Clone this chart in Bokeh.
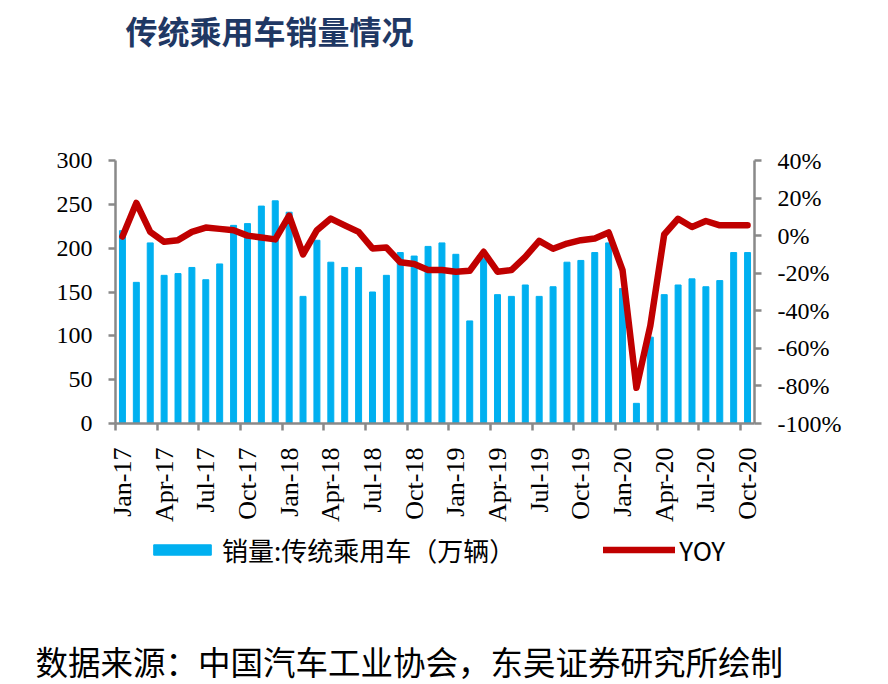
import math
from bokeh.plotting import figure
from bokeh.layouts import column
from bokeh.models import (Range1d, LinearAxis, FixedTicker, PrintfTickFormatter,
                          Label, Legend, LegendItem, Title)
from bokeh.embed import file_html
from bokeh.resources import INLINE

# ---------------- data ----------------
month_names = ["Jan", "Feb", "Mar", "Apr", "May", "Jun",
               "Jul", "Aug", "Sep", "Oct", "Nov", "Dec"]
months = [f"{m}-{y}" for y in ("17", "18", "19", "20") for m in month_names][:46]

sales = [220, 161, 206, 169, 171, 178, 164, 182, 226, 228, 248, 254,
         241, 145, 209, 184, 178, 178, 150, 169, 195, 191, 202, 206,
         193, 117, 188, 147, 145, 158, 145, 156, 184, 186, 195, 206,
         154, 23, 98.5, 147, 158, 165, 156, 163, 195, 195]

yoy = [-0.5, 17.4, 2.0, -3.3, -2.4, 2.0, 4.3, 3.6, 2.9, 0.0, -1.0, -2.0,
       10.7, -10.0, 2.9, 9.1, 5.5, 2.0, -6.8, -6.3, -14.2, -15.1, -18.3, -18.3,
       -19.2, -18.7, -8.6, -19.2, -18.3, -11.3, -2.8, -7.0, -4.2, -2.4, -1.5, 1.7,
       -18.3, -81.0, -48.0, 0.6, 9.0, 4.6, 7.8, 5.5, 5.5, 5.5]

left_ticks = [0, 50, 100, 150, 200, 250, 300]
right_ticks = [-100, -80, -60, -40, -20, 0, 20, 40]

title_text = "传统乘用车销量情况"
source_text = "数据来源：中国汽车工业协会，东吴证券研究所绘制"
bar_label = "销量:传统乘用车（万辆）"
line_label = "YOY"

# ---------------- styles ----------------
BAR_COLOR = "#00B0F0"
LINE_COLOR = "#C00000"
AXIS_COLOR = "#898989"
SERIF = "Liberation Serif"
CJK = "Noto Sans CJK SC"
FRAME_W = 639
BORDER_L = 115
BORDER_R = 126
NAN = float("nan")


def blank_strip(frame_h):
    f = figure(output_backend="svg", toolbar_location=None,
               x_range=Range1d(0, 1), y_range=Range1d(0, 1),
               x_axis_location=None, y_axis_location=None)
    f.frame_width = FRAME_W
    f.frame_height = frame_h
    f.min_border_left = BORDER_L
    f.min_border_right = BORDER_R
    f.min_border_top = 0
    f.min_border_bottom = 0
    f.outline_line_color = None
    f.xgrid.visible = False
    f.ygrid.visible = False
    return f


# ---------------- title strip ----------------
top = blank_strip(60)
top.add_layout(Label(x=10, y=31, x_units="screen", y_units="screen", text=title_text,
                     text_font=CJK, text_font_size="32px", text_font_style="bold",
                     text_color="#1F3864", text_baseline="middle", text_align="left"))

# ---------------- main chart ----------------
x = list(range(len(months)))
label_pos = list(range(0, len(months), 3))
boundary_pos = [i - 0.5 for i in label_pos]

p = figure(output_backend="svg", toolbar_location=None,
           x_range=Range1d(-0.5, len(months) - 0.5), y_range=Range1d(0, 300),
           x_axis_location=None, y_axis_location=None)
p.frame_width = FRAME_W
p.frame_height = 263
p.min_border_left = BORDER_L
p.min_border_right = BORDER_R
p.min_border_top = 100
p.min_border_bottom = 105
p.outline_line_color = None
p.xgrid.visible = False
p.ygrid.visible = False

p.extra_y_ranges = {"yoy": Range1d(-100, 40)}

p.vbar(x=x, top=sales, width=0.43, color=BAR_COLOR)
p.line(x=x, y=yoy, y_range_name="yoy", line_width=6.5,
       line_color=LINE_COLOR, line_join="round", line_cap="round")


def style_axis(ax):
    ax.axis_line_color = AXIS_COLOR
    ax.axis_line_width = 2.5
    ax.major_tick_line_color = AXIS_COLOR
    ax.major_tick_line_width = 2.5
    ax.major_tick_out = 7
    ax.major_tick_in = 0
    ax.minor_tick_line_color = None
    ax.major_label_text_font = SERIF
    ax.major_label_text_font_size = "24px"
    ax.major_label_text_color = "black"


left_axis = LinearAxis(ticker=FixedTicker(ticks=left_ticks))
style_axis(left_axis)
left_axis.major_label_standoff = 16
p.add_layout(left_axis, "left")

right_axis = LinearAxis(y_range_name="yoy", ticker=FixedTicker(ticks=right_ticks),
                        formatter=PrintfTickFormatter(format="%d%%"))
style_axis(right_axis)
right_axis.major_label_standoff = 16
p.add_layout(right_axis, "right")

x_axis = LinearAxis(ticker=FixedTicker(ticks=label_pos, minor_ticks=boundary_pos),
                    major_label_overrides={i: months[i] for i in label_pos})
style_axis(x_axis)
x_axis.major_tick_line_color = None
x_axis.major_tick_out = 0
x_axis.minor_tick_line_color = AXIS_COLOR
x_axis.minor_tick_line_width = 2.5
x_axis.minor_tick_out = 7
x_axis.minor_tick_in = 0
x_axis.major_label_text_font_size = "26px"
x_axis.major_label_orientation = math.pi / 2
x_axis.major_label_standoff = 17
p.add_layout(x_axis, "below")

# ---------------- legend + source strip ----------------
bottom = blank_strip(102)
# legend keys only (NaN data: nothing is drawn in the strip itself)
key_bar = bottom.vbar(x=[NAN], top=[NAN], width=0.43, color=BAR_COLOR)
key_line = bottom.line(x=[NAN], y=[NAN], line_width=6.5, line_color=LINE_COLOR,
                       line_cap="round")
legend = Legend(items=[LegendItem(label=bar_label, renderers=[key_bar]),
                       LegendItem(label=line_label, renderers=[key_line])],
                location=(31, 62), orientation="horizontal",
                glyph_width=72, glyph_height=13, label_standoff=4, spacing=88,
                padding=0, margin=0, border_line_color=None,
                background_fill_alpha=0,
                label_text_font=CJK,
                label_text_font_size="26px", label_text_color="black")
bottom.add_layout(legend, "center")

source = Title(text=source_text, align="left", offset=-80, standoff=8,
               vertical_align="bottom",
               text_font=CJK, text_font_size="32.5px", text_font_style="normal",
               text_color="black")
bottom.add_layout(source, "below")

layout = column(top, p, bottom, spacing=0)
open("out.html", "w").write(file_html(layout, INLINE))
